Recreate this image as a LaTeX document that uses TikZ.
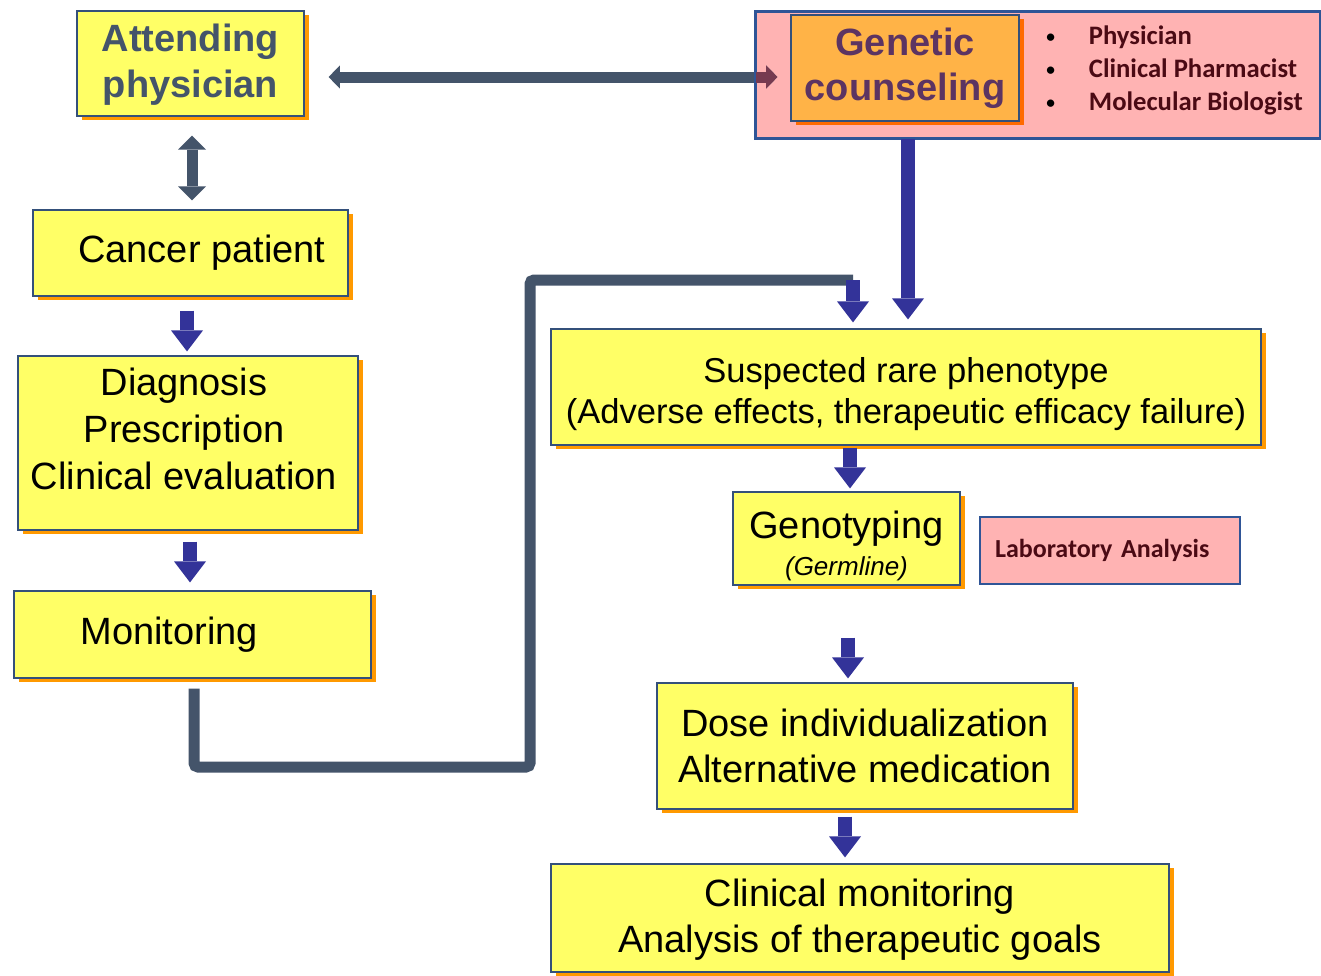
\documentclass[tikz,border=0pt]{standalone}
\usepackage{fontspec}
\setmainfont{Liberation Sans}
\newfontfamily\carlfont{Carlito}
\usetikzlibrary{arrows.meta,shadows,calc}
\definecolor{boxyellow}{HTML}{FFFF66}
\definecolor{boxline}{HTML}{34507A}
\definecolor{shorange}{HTML}{FF9900}
\definecolor{arrowblue}{HTML}{333399}
\definecolor{slate}{HTML}{44546A}
\definecolor{gcpink}{HTML}{FFB3B3}
\definecolor{gcline}{HTML}{2F5597}
\definecolor{gcorange}{HTML}{FFB347}
\definecolor{gcshadow}{HTML}{FF6A00}
\definecolor{gctext}{HTML}{5C3462}
\definecolor{darkmaroon}{HTML}{4B0A14}
\definecolor{arrowmaroon}{HTML}{763A50}
% lines of centred text, moved up or down without changing the box extents
\newcommand\shiftedlines[2]{\raisebox{#1}[\height][\depth]{\begin{tabular}{@{}c@{}}#2\end{tabular}}}
\newcommand\smallbullet{\makebox[32pt][l]{\textcolor{black}{\fontsize{13pt}{13pt}\selectfont\raisebox{1.5pt}{\textbullet}}}}
\begin{document}
\begin{tikzpicture}[x=0.75pt,y=-0.75pt,
  ybox/.style={draw=boxline, line width=0.9pt, fill=boxyellow, inner sep=0pt, align=center,
    general shadow={fill=shorange, shadow xshift=3.5pt, shadow yshift=-3pt}},
  bigtext/.style={font=\fontsize{28.5pt}{35pt}\selectfont},
  bluearrow/.style={draw=arrowblue, line width=10.5pt,
    -{Triangle[width=24pt,length=15.75pt,line width=0pt]}},
  slatedoubleH/.style={draw=slate, line width=8.25pt,
    {Triangle[width=17.5pt,length=8.5pt,line width=0pt]}-{Triangle[width=17.5pt,length=8.5pt,line width=0pt]}},
  slatedoubleV/.style={draw=slate, line width=8.25pt,
    {Triangle[width=21pt,length=10.5pt,line width=0pt]}-{Triangle[width=21pt,length=10.5pt,line width=0pt]}},
  slatepath/.style={draw=slate, line width=8.25pt, rounded corners=3pt},
  pinkbox/.style={draw=gcline, line width=1.5pt, fill=gcpink, inner sep=0pt}
]
\fill[white] (0,0) rectangle (1321,975);
\useasboundingbox (0,0) rectangle (1321,975);

% left column
\node[ybox, text=slate, font=\bfseries\fontsize{28.5pt}{34pt}\selectfont,
  minimum width=227*0.75pt, minimum height=105*0.75pt] (att) at (190.5,63.5)
  {\shiftedlines{-1.5pt}{Attending\\physician}};
\node[ybox, bigtext, minimum width=315*0.75pt, minimum height=86*0.75pt] (cp) at (190.5,253)
  {\hspace*{17pt}Cancer patient};
\node[ybox, bigtext, minimum width=340*0.75pt, minimum height=174*0.75pt] (dx) at (188,443)
  {\shiftedlines{7.5pt}{Diagnosis\\Prescription\\Clinical evaluation}\hspace*{6pt}};
\node[ybox, bigtext, minimum width=357*0.75pt, minimum height=87*0.75pt] (mon) at (192.5,634.5)
  {Monitoring\hspace*{35pt}};

% genetic counseling group
\node[pinkbox, minimum width=564*0.75pt, minimum height=126*0.75pt] (gcbox) at (1038,75) {};
\node[draw=boxline, line width=0.9pt, fill=gcorange, inner sep=0pt, align=center,
  general shadow={fill=gcshadow, shadow xshift=3.5pt, shadow yshift=-3pt},
  text=gctext, font=\bfseries\fontsize{28.5pt}{34pt}\selectfont,
  minimum width=228*0.75pt, minimum height=106*0.75pt] (gc) at (905,68) {Genetic\\counseling};
\node[anchor=west, inner sep=0pt, align=left, text=darkmaroon,
  font=\carlfont\bfseries\fontsize{20pt}{24.75pt}\selectfont] (gclist) at (1046,70.5)
  {\smallbullet Physician\\
   \smallbullet Clinical Pharmacist\\
   \smallbullet Molecular Biologist};

% right column
\node[ybox, font=\fontsize{25.9pt}{31pt}\selectfont, minimum width=710*0.75pt, minimum height=116*0.75pt]
  (sus) at (906,387) {\shiftedlines{-6pt}{Suspected rare phenotype\\(Adverse effects, therapeutic efficacy failure)}};
\node[ybox, bigtext, minimum width=227*0.75pt, minimum height=93*0.75pt] (geno) at (846.5,538.5)
  {\shiftedlines{-6.5pt}{Genotyping\\[-7.25pt]{\itshape\fontsize{19.5pt}{24pt}\selectfont (Germline)}}};
\node[pinkbox, text=darkmaroon, font=\carlfont\bfseries\fontsize{19.5pt}{24pt}\selectfont,
  text width=230*0.75pt, inner xsep=15*0.75pt, minimum height=67*0.75pt, align=left]
  (lab) at (1110,550.5) {Laboratory Analysis};
\node[ybox, bigtext, minimum width=416*0.75pt, minimum height=126*0.75pt] (dose) at (865,746)
  {Dose individualization\\Alternative medication};
\node[ybox, font=\fontsize{28.5pt}{34.5pt}\selectfont, minimum width=618*0.75pt, minimum height=108*0.75pt]
  (cm) at (860,918) {\shiftedlines{-1.5pt}{Clinical monitoring\\Analysis of therapeutic goals}};

% horizontal double arrow between attending physician and genetic counseling
\draw[slatedoubleH, shorten <=18pt, shorten >=9.75pt] (att.east |- 0,77) -- (gc.west |- 0,77);
\begin{scope}
  \clip (gcbox.north west) rectangle (gcbox.south east);
  \draw[slatedoubleH, draw=arrowmaroon, shorten <=18pt, shorten >=9.75pt] (att.east |- 0,77) -- (gc.west |- 0,77);
\end{scope}
\draw[draw=gcline, line width=1.5pt] (gcbox.north west) rectangle (gcbox.south east);

% vertical double arrow
\draw[slatedoubleV, shorten <=14.25pt, shorten >=6.75pt] (att.south -| 192,0) -- (cp.north -| 192,0);

% left column arrows
\draw[bluearrow, shorten <=10.5pt, shorten >=3pt] (cp.south -| 187,0) -- (dx.north -| 187,0);
\draw[bluearrow, shorten <=8.25pt, shorten >=6pt] (dx.south -| 190,0) -- (mon.north -| 190,0);

% loop from monitoring to suspected phenotype
\coordinate (j) at (853,280);
\draw[slatepath, shorten <=7.5pt] (mon.south -| 194,0) |- (530,767) |- (j);
\draw[bluearrow, shorten >=4.5pt] (j) -- (sus.north -| j);

% from genetic counseling to suspected phenotype
\draw[bluearrow, shorten >=6.75pt] (gcbox.south -| 908,0) -- (sus.north -| 908,0);

% right column arrows
\draw[bluearrow, shorten <=1.5pt, shorten >=2.25pt] (sus.south -| 850,0) -- (geno.north -| 850,0);
\draw[bluearrow, shorten <=39pt, shorten >=3pt] (geno.south -| 848,0) -- (dose.north -| 848,0);
\draw[bluearrow, shorten <=5.25pt, shorten >=4.5pt] (dose.south -| 845,0) -- (cm.north -| 845,0);
\end{tikzpicture}
\end{document}
